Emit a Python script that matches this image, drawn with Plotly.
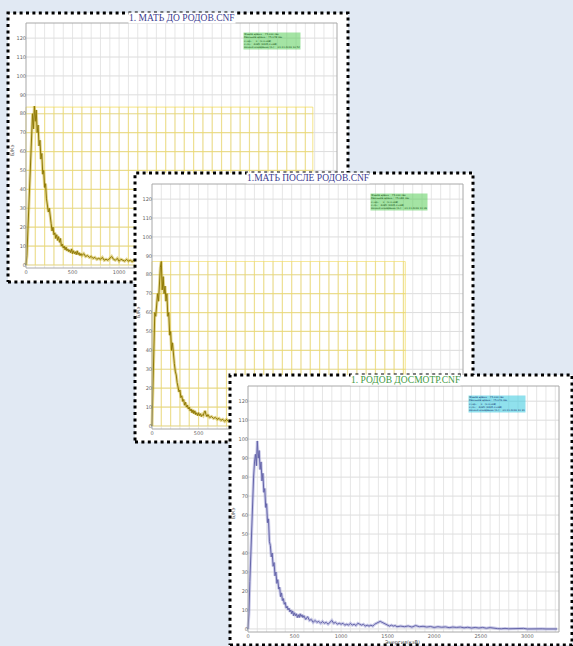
import plotly.graph_objects as go

W, H = 573, 646

# ---------------- data ----------------
x_tick_vals = [0, 500, 1000, 1500, 2000, 2500, 3000]
y_tick_vals = [0, 10, 20, 30, 40, 50, 60, 70, 80, 90, 100, 110, 120]
grid_x_vals = list(range(100, 3400, 100))

titles = ["1. МАТЬ ДО РОДОВ.CNF", "1.МАТЬ ПОСЛЕ РОДОВ.CNF", "1. РОДОВ ДОСМОТР.CNF"]
info_texts = [
    "Живое время :  75.000 сек<br>Реальное время :  75.078 сек<br>Старт :   0   (0.0 кэВ)<br>Стоп :  4095 (3345.0 кэВ)<br>Начало измерения (от) :  01.11.2016 10:52",
    "Живое время :  75.000 сек<br>Реальное время :  75.081 сек<br>Старт :   0   (0.0 кэВ)<br>Стоп :  4095 (3345.0 кэВ)<br>Начало измерения (от) :  01.11.2016 11:09",
    "Живое время :  75.000 сек<br>Реальное время :  75.076 сек<br>Старт :   0   (0.0 кэВ)<br>Стоп :  4095 (3345.0 кэВ)<br>Начало измерения (от) :  01.11.2016 11:31",
]
y_axis_title = "Б/Кэ"
x_axis_title = "Энергия(кэВ)"

# highlighted (yellow) grid region for first two spectra
yellow_x_end = [3080, 2720]
yellow_y_top = [83.5, 87]

# spectrum 1: МАТЬ ДО РОДОВ
s1_x = list(range(0, 610, 10)) + list(range(620, 1220, 20))
s1_y = [0, 5, 18, 30, 45, 58, 70, 80, 72, 84, 76, 82, 70, 74, 63, 66, 56, 59, 48, 50,
        41, 43, 35, 32, 28, 30, 24, 22, 18, 20, 16, 17, 14, 16, 13, 15, 12, 14, 10, 11,
        9, 10, 8, 9.5, 7.5, 8.5, 7, 8, 6.5, 8.5, 6, 7.5, 6, 7, 5.5, 7.5, 5.5, 6.5, 5, 6, 5,
        6, 4.5, 5, 4, 4.5, 3.5, 4, 3, 3.5, 3, 4, 2.5, 3, 2.5, 3.5, 4.5, 3, 2.5, 3.5, 2,
        3, 2.5, 2, 3, 2, 2.5, 1.8, 2.5, 2, 2]

# spectrum 2: МАТЬ ПОСЛЕ РОДОВ
s2_x = list(range(0, 610, 10)) + list(range(620, 920, 20))
s2_y = [0, 25, 45, 60, 58, 63, 70, 66, 78, 84, 87, 72, 79, 70, 74, 66, 70, 58, 60, 48,
        50, 40, 44, 36, 33, 29, 27, 23, 21, 18, 19, 15, 16, 13, 14, 11, 12.5, 10, 11, 9,
        10, 8, 9, 7, 8.5, 6.5, 8, 6, 7, 5.5, 7, 5.5, 6.5, 5, 6, 5.5, 7, 8, 6, 5, 6,
        4.5, 5, 4, 4.5, 3.5, 4, 3, 3.5, 2.5, 3.5, 2.5, 3, 2.5, 3, 2.5]

# spectrum 3: РОДОВ ДОСМОТР
s3_x = list(range(0, 610, 10)) + list(range(620, 1620, 20)) + list(range(1640, 3360, 40))
s3_y = [0, 8, 25, 42, 55, 68, 80, 88, 92, 86, 99, 90, 94, 84, 88, 78, 82, 72, 74, 64,
        66, 56, 58, 46, 44, 38, 40, 33, 35, 28, 30, 24, 26, 21, 22, 17, 19, 15, 16, 13,
        14, 11, 12, 10, 11, 9, 10, 8, 9.5, 7, 8.5, 7, 8, 6, 7.5, 6, 8, 6.5, 7.5, 6, 7,
        5, 6.5, 4.5, 5, 3.5, 4.5, 3.5, 4, 3, 4, 3, 3.5, 2.5, 3.5, 4.5, 3, 3.5, 2.5, 3, 2.5,
        3, 2, 2.5, 2, 3, 2, 2.5, 1.8, 3, 2.5, 2, 2.5, 1.5, 2, 1.5, 2, 1.5, 2.5, 3, 3.5,
        4, 3.5, 3, 2.5, 2, 1.5, 2, 1.5, 1.8, 1.2,
        1.5, 1.2, 1.6, 1.0, 1.8, 1.2, 1.4, 1.0, 1.3, 0.8, 1.2, 0.9, 1.1, 0.7, 1.0, 0.8,
        1.0, 0.6, 0.9, 0.5, 0.8, 0.5, 0.8, 0.4, 0.7, 0.3, 0.2, 0.1, 0.3, 0.1, 0.2, 0.0,
        0.1, 0.3, 0.0, 0.1, 0.0, 0.0, 0.1, 0.0, 0.0, 0.0, 0.0]

spectra = [(s1_x, s1_y), (s2_x, s2_y), (s3_x, s3_y)]

# ---------------- layout / style ----------------
XR = [0, 3340]       # visible frame range (data)
YR = [-1.6, 128]
PAD = 2
panels = [
    dict(plot=(26, 23, 337, 268), box=(8, 13, 348, 282), info=(243, 32),
         title_c="#3b3b8f", info_bg="rgba(90,205,90,0.55)", info_fc="#0b4a0b",
         line="#8f7a08", halo="rgba(205,180,50,0.55)", ylab=(12, 150)),
    dict(plot=(152, 184, 463, 429), box=(135, 173, 473, 442), info=(370, 193),
         title_c="#3b3b8f", info_bg="rgba(90,205,90,0.55)", info_fc="#0b4a0b",
         line="#8f7a08", halo="rgba(205,180,50,0.55)", ylab=(138, 312)),
    dict(plot=(248, 386, 559, 632), box=(230, 375, 572, 645), info=(468, 395),
         title_c="#3f9a3f", info_bg="rgba(70,205,225,0.6)", info_fc="#0b2a6a",
         line="#6666aa", halo="rgba(150,150,210,0.5)", ylab=(233, 513)),
]

fig = go.Figure()
annotations = []
layout_axes = {}

for i, p in enumerate(panels):
    sfx = "" if i == 0 else str(i + 1)
    xa, ya = "x" + sfx, "y" + sfx
    L, T, R, B = p["plot"]
    bl, bt, br, bb = p["box"]
    kx = (R - L) / (XR[1] - XR[0])
    ky = (B - T) / (YR[1] - YR[0])

    def dx(px):
        return XR[0] + (px - L) / kx

    def dy(py):
        return YR[0] + (B - py) / ky

    Dl, Dt = max(bl - PAD, 0), max(bt - PAD, 0)
    Dr, Db = min(br + PAD, W), min(bb + PAD, H)
    x0, x1, y0, y1 = dx(bl), dx(br), dy(bb), dy(bt)

    # white panel card (covers lower panels)
    fig.add_trace(go.Scatter(x=[x0, x1, x1, x0, x0], y=[y0, y0, y1, y1, y0],
                             mode="lines", fill="toself", fillcolor="white",
                             line=dict(width=0, color="white"),
                             xaxis=xa, yaxis=ya, hoverinfo="skip", showlegend=False))
    # grid
    gx, gy = [], []
    for v in y_tick_vals:
        gx += [XR[0], XR[1], None]
        gy += [v, v, None]
    fig.add_trace(go.Scatter(x=gx, y=gy, mode="lines",
                             line=dict(width=0.8, color="#d4d4d4"),
                             xaxis=xa, yaxis=ya, hoverinfo="skip", showlegend=False))
    vx, vy = [], []
    for v in grid_x_vals:
        vx += [v, v, None]
        vy += [YR[0], YR[1], None]
    fig.add_trace(go.Scatter(x=vx, y=vy, mode="lines",
                             line=dict(width=0.8, color="#e0e0e0"),
                             xaxis=xa, yaxis=ya, hoverinfo="skip", showlegend=False))
    # yellow highlighted grid
    if i < 2:
        xe, yt = yellow_x_end[i], yellow_y_top[i]
        hx, hy = [], []
        for v in [t for t in y_tick_vals if t <= yt] + [yt]:
            hx += [0, xe, None]
            hy += [v, v, None]
        for v in [0] + [t for t in grid_x_vals if t <= xe] + [xe]:
            hx += [v, v, None]
            hy += [0, yt, None]
        fig.add_trace(go.Scatter(x=hx, y=hy, mode="lines",
                                 line=dict(width=1.2, color="rgba(242,218,90,0.6)"),
                                 xaxis=xa, yaxis=ya, hoverinfo="skip", showlegend=False))
    # spectrum (soft halo + core line)
    sx, sy = spectra[i]
    fig.add_trace(go.Scatter(x=sx, y=sy, mode="lines",
                             line=dict(width=3, color=p["halo"]),
                             xaxis=xa, yaxis=ya, hoverinfo="skip", showlegend=False))
    fig.add_trace(go.Scatter(x=sx, y=sy, mode="lines",
                             line=dict(width=1, color=p["line"]),
                             xaxis=xa, yaxis=ya, hoverinfo="skip", showlegend=False))
    # plot frame
    fig.add_trace(go.Scatter(x=[XR[0], XR[1], XR[1], XR[0], XR[0]],
                             y=[YR[0], YR[0], YR[1], YR[1], YR[0]], mode="lines",
                             line=dict(width=1, color="#a8a8a8"),
                             xaxis=xa, yaxis=ya, hoverinfo="skip", showlegend=False))
    # dotted border of the card
    fig.add_trace(go.Scatter(x=[x0, x1, x1, x0, x0], y=[y0, y0, y1, y1, y0],
                             mode="lines", line=dict(width=3, color="black", dash="3px,3.4px"),
                             xaxis=xa, yaxis=ya, hoverinfo="skip", showlegend=False))

    common = dict(showgrid=False, zeroline=False, showline=False, ticks="",
                  tickfont=dict(size=5, color="#666666", family="DejaVu Sans"))
    layout_axes["xaxis" + sfx] = dict(domain=[Dl / W, Dr / W], range=[dx(Dl), dx(Dr)],
                                      anchor="free", position=1 - B / H,
                                      tickvals=x_tick_vals, **common)
    layout_axes["yaxis" + sfx] = dict(domain=[1 - Db / H, 1 - Dt / H], range=[dy(Db), dy(Dt)],
                                      anchor="free", position=L / W,
                                      tickvals=y_tick_vals, **common)

    # title
    annotations.append(dict(text=titles[i], x=((bl + br) / 2 + 4) / W, y=1 - (bt + 5) / H,
                            xref="paper", yref="paper", showarrow=False,
                            xanchor="center", yanchor="middle", bgcolor="white", borderpad=0,
                            font=dict(family="Liberation Serif", size=9.5, color=p["title_c"])))
    # info box
    ix, iy = p["info"]
    annotations.append(dict(text=info_texts[i], x=ix / W, y=1 - iy / H,
                            xref="paper", yref="paper", showarrow=False, align="left",
                            xanchor="left", yanchor="top", bgcolor=p["info_bg"], borderpad=0,
                            font=dict(family="DejaVu Sans", size=2.5, color=p["info_fc"])))
    # y-axis title
    lx, ly = p["ylab"]
    annotations.append(dict(text=y_axis_title, x=lx / W, y=1 - ly / H, textangle=-90,
                            xref="paper", yref="paper", showarrow=False,
                            xanchor="center", yanchor="middle",
                            font=dict(family="DejaVu Sans", size=5, color="#555555")))

annotations.append(dict(text=x_axis_title, x=402 / W, y=1 - 642 / H,
                        xref="paper", yref="paper", showarrow=False,
                        xanchor="center", yanchor="middle",
                        font=dict(family="DejaVu Sans", size=5, color="#444444")))

fig.update_layout(width=W, height=H, margin=dict(l=0, r=0, t=0, b=0),
                  paper_bgcolor="#e1e9f3", plot_bgcolor="rgba(0,0,0,0)",
                  showlegend=False, annotations=annotations, **layout_axes)

fig.write_html("out.html", config={"displayModeBar": False},
               post_script="document.body.style.margin='0';")
